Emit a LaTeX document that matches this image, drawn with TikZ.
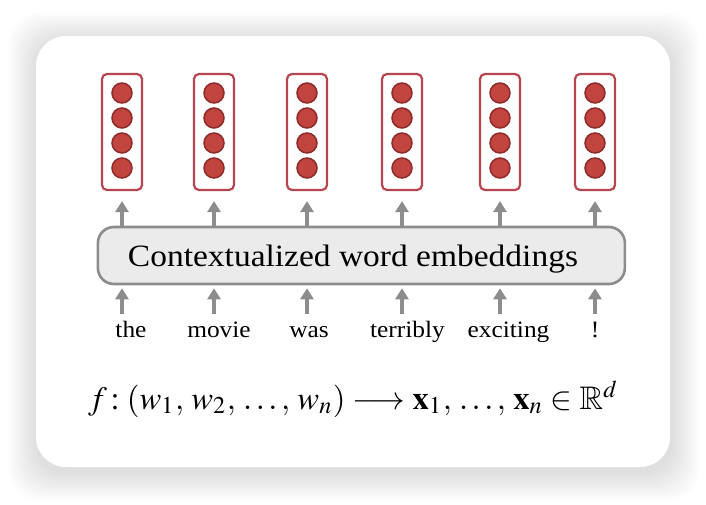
\documentclass[tikz,border=0pt]{standalone}
\usepackage{mathptmx}
\usepackage{amsmath,amssymb}
\usepackage{fontspec}
\newfontfamily\geo[FakeStretch=1.08]{Liberation Serif}
\usetikzlibrary{arrows.meta}
\definecolor{dotred}{HTML}{C1443E}
\definecolor{dotedge}{HTML}{8E2B2B}
\definecolor{vecedge}{HTML}{B8454D}
\definecolor{arrgray}{HTML}{8C8C8C}
\definecolor{boxfill}{HTML}{EBEBEB}
\begin{document}
\begin{tikzpicture}[x=1pt,y=-1pt,
  card/.style={fill=white, rounded corners=30pt, minimum width=634pt, minimum height=431pt, inner sep=0},
  vecbox/.style={draw=vecedge, fill=white, line width=2.2pt, rounded corners=5pt, minimum width=40pt, minimum height=116pt, inner sep=0},
  dot/.style={circle, fill=dotred, draw=dotedge, line width=1.5pt, minimum size=20pt, inner sep=0},
  arr/.style={draw=arrgray, line width=3.2pt, -{Triangle[width=13pt,length=11pt]}},
  embbox/.style={draw=arrgray, fill=boxfill, line width=2.6pt, rounded corners=16pt, minimum width=527pt, minimum height=57pt, inner sep=0},
  embtext/.style={font=\geo\fontsize{31}{31}\selectfont, anchor=base, inner sep=0},
  word/.style={font=\geo\fontsize{23.5}{23.5}\selectfont, anchor=base, inner sep=0},
]
\path[use as bounding box] (0,0) rectangle (706,504);
% soft shadow of the card
\foreach \i in {1,...,16}{
  \fill[black, opacity=0.008, rounded corners=32pt]
    ({36-1.8*\i+1},{36-1.8*\i+5}) rectangle ({670+1.8*\i+1},{467+1.8*\i+5});
}
\node[card] (card) at (353,251.5) {};

% vectors
\foreach \x [count=\k] in {122,214,307,402,500,595}{
  \node[vecbox] (v\k) at (\x,132) {};
  \foreach \y [count=\j] in {93,118,143,168}{
    \node[dot] (c\k\j) at (\x,\y) {};
  }
  \coordinate (t\k) at (\x,314);
}

% embedding box
\node[embbox] (E) at (361.4,255.5) {};
\node[embtext] (Etxt) at (353,266) {Contextualized word embeddings};

% arrows
\foreach \k in {1,...,6}{
  \draw[arr, shorten >=10pt] (E.north -| v\k) -- (v\k.south);
  \draw[arr, shorten >=3pt] (t\k) -- (E.south -| t\k);
}

% words
\node[word] (w1) at (131,337) {the};
\node[word] (w2) at (219,337) {movie};
\node[word] (w3) at (309,337) {was};
\node[word] (w4) at (407.5,337) {terribly};
\node[word] (w5) at (508.5,337) {exciting};
\node[word] (w6) at (595,337) {!};

% formula
\node[anchor=base west, inner sep=0] (F) at (88,409)
  {\resizebox{530pt}{!}{$f\,{:}\;(w_1,\, w_2,\, \ldots,\, w_n) \longrightarrow \mathbf{x}_1,\, \ldots,\, \mathbf{x}_n \in \mathbb{R}^d$}};
\end{tikzpicture}
\end{document}
